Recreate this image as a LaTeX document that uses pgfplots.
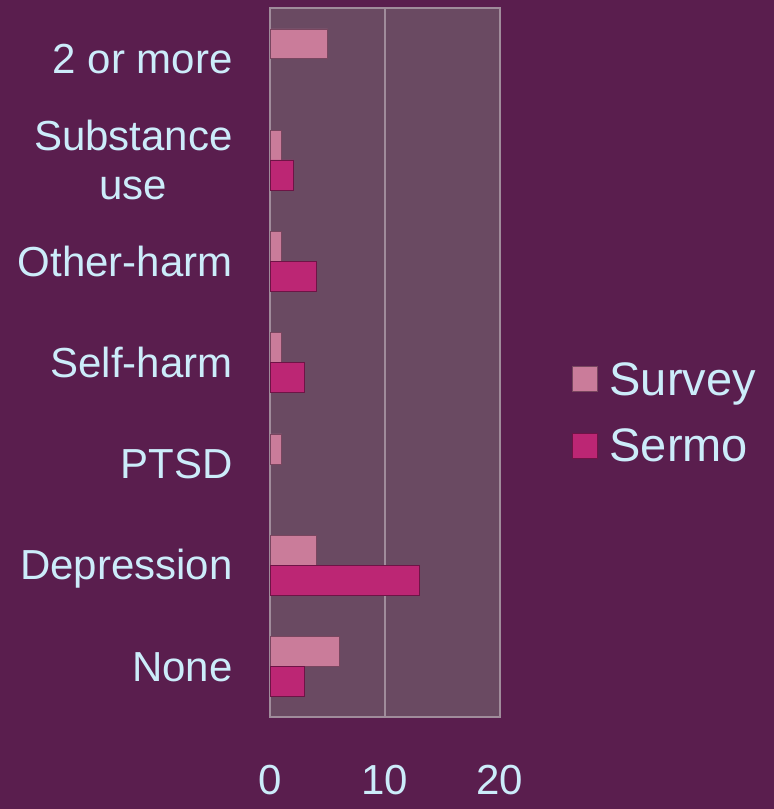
\documentclass[border=0pt]{standalone}
\usepackage{fontspec}
\setmainfont{Liberation Sans}
\usepackage{pgfplots}
\pgfplotsset{compat=1.18}

\definecolor{bgcol}{RGB}{90,30,78}
\definecolor{plotbg}{RGB}{106,74,98}
\definecolor{gridcol}{RGB}{160,140,155}
\definecolor{txtcol}{RGB}{204,236,250}
\definecolor{svfill}{RGB}{202,124,154}
\definecolor{svedge}{RGB}{120,70,95}
\definecolor{smfill}{RGB}{188,38,116}
\definecolor{smedge}{RGB}{110,20,70}

\newcommand{\bigfont}{\fontsize{42bp}{49bp}\selectfont}
\newcommand{\legfont}{\fontsize{47bp}{55bp}\selectfont}

\begin{document}
\begin{tikzpicture}
\fill[bgcol] (0,0) rectangle (774bp,809bp);
\begin{axis}[
    at={(270bp,92bp)}, anchor=south west,
    scale only axis,
    width=230bp, height=709bp,
    xbar,
    bar width=0.295,
    xmin=0, xmax=20,
    ymin=-0.5, ymax=6.5,
    xtick={0,10,20},
    ytick={0,1,2,3,4,5,6},
    yticklabels={\strut None,\strut Depression,\strut PTSD,\strut Self-harm,\strut Other-harm,{\strut Substance\\\strut use},\strut 2 or more},
    major tick length=0pt,
    xmajorgrids,
    grid style={gridcol, line width=1.2bp},
    axis line style={gridcol, line width=1.2bp},
    axis background/.style={fill=plotbg},
    /pgf/number format/assume math mode=true,
    ticklabel style={font=\bigfont, text=txtcol},
    yticklabel style={align=center, xshift=-34bp, yshift=-5bp},
    xticklabel style={yshift=-45bp},
    legend style={at={(1.300,0.429)}, anchor=west, draw=none, fill=none,
        font=\legfont, text=txtcol, row sep=28bp},
    legend cell align=left,
    legend image code/.code={\fill[#1] (0bp,-12bp) rectangle (25bp,13bp);
        \path (35bp,0bp);},
]
\addplot[draw=svedge, fill=svfill, bar shift=0.1475]
    coordinates {(6,0) (4,1) (1,2) (1,3) (1,4) (1,5) (5,6)};
\addplot[draw=smedge, fill=smfill, bar shift=-0.1475]
    coordinates {(3,0) (13,1) (3,3) (4,4) (2,5)};
\legend{Survey,Sermo}
\end{axis}
\pgfresetboundingbox
\useasboundingbox (0,0) rectangle (774bp,809bp);
\end{tikzpicture}
\end{document}
